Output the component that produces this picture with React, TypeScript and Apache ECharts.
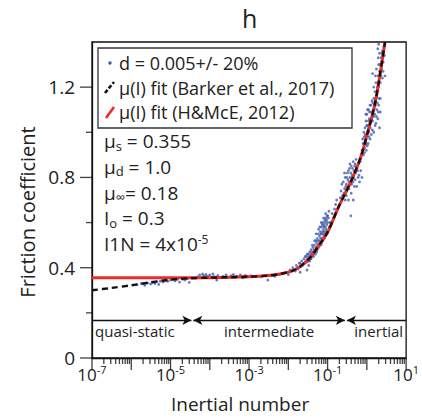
import React, { useEffect, useRef } from "react";
import * as echarts from "echarts";

// ---- data ----
const scatterPoints: [number, number][] = [
  [1.4e-6, 0.325], [1.8e-6, 0.33], [2.2e-6, 0.322], [2.6e-6, 0.332], [3.1e-6, 0.328],
  [3.5e-6, 0.335], [4e-6, 0.33], [4.5e-6, 0.338], [5e-6, 0.326], [5.5e-6, 0.34],
  [6.5e-6, 0.336], [7.5e-6, 0.343], [8.5e-6, 0.34], [1e-5, 0.345], [1.1e-5, 0.35],
  [1.3e-5, 0.342], [1.5e-5, 0.348], [1.7e-5, 0.336], [2e-5, 0.35], [2.3e-5, 0.345],
  [2.7e-5, 0.352], [3e-5, 0.335],
  [5e-5, 0.36], [5.5e-5, 0.368], [6e-5, 0.355], [6.5e-5, 0.372], [7e-5, 0.365],
  [7.5e-5, 0.36], [8e-5, 0.37], [9e-5, 0.362], [1e-4, 0.368], [1.1e-4, 0.358],
  [1.2e-4, 0.372], [1.3e-4, 0.36], [1.5e-4, 0.345], [1.6e-4, 0.366],
  [2.2e-4, 0.362], [2.6e-4, 0.368], [3e-4, 0.358], [3.5e-4, 0.365], [4e-4, 0.37],
  [4.5e-4, 0.36], [5e-4, 0.362], [6e-4, 0.368], [7e-4, 0.355], [8e-4, 0.366],
  [9e-4, 0.362], [1.1e-3, 0.365],
  [2e-3, 0.36], [3e-3, 0.345], [4.5e-3, 0.362], [6e-3, 0.37], [8e-3, 0.378],
  [0.01, 0.37], [0.011, 0.39], [0.013, 0.4], [0.015, 0.385],
  [0.016, 0.41], [0.018, 0.395], [0.02, 0.42], [0.021, 0.405], [0.022, 0.43],
  [0.024, 0.415], [0.025, 0.44], [0.026, 0.42], [0.028, 0.43], [0.029, 0.45],
  [0.03, 0.425], [0.031, 0.44], [0.032, 0.46], [0.033, 0.43], [0.034, 0.45],
  [0.035, 0.47], [0.036, 0.44], [0.037, 0.46], [0.038, 0.48], [0.04, 0.45],
  [0.04, 0.47], [0.042, 0.49], [0.043, 0.46], [0.045, 0.48], [0.02, 0.38], [0.03, 0.39],
  [0.017, 0.4], [0.019, 0.42], [0.023, 0.41], [0.027, 0.45], [0.03, 0.46],
  [0.033, 0.41], [0.035, 0.43], [0.038, 0.44], [0.041, 0.5], [0.044, 0.45],
  [0.047, 0.52], [0.049, 0.46],
  [0.046, 0.5], [0.048, 0.47], [0.05, 0.52], [0.05, 0.49], [0.052, 0.51],
  [0.054, 0.53], [0.055, 0.48], [0.056, 0.5], [0.058, 0.55], [0.06, 0.52],
  [0.06, 0.49], [0.062, 0.54], [0.064, 0.51], [0.065, 0.56], [0.066, 0.53],
  [0.068, 0.5], [0.07, 0.55], [0.07, 0.58], [0.072, 0.53], [0.074, 0.56],
  [0.075, 0.6], [0.076, 0.52], [0.078, 0.57], [0.08, 0.54], [0.08, 0.59],
  [0.082, 0.56], [0.085, 0.61], [0.086, 0.55], [0.088, 0.58], [0.09, 0.62],
  [0.09, 0.56], [0.095, 0.59], [0.1, 0.6], [0.1, 0.63], [0.11, 0.58], [0.39, 0.63],
  [0.051, 0.55], [0.053, 0.47], [0.057, 0.52], [0.059, 0.57], [0.061, 0.5],
  [0.063, 0.58], [0.067, 0.55], [0.069, 0.6], [0.071, 0.51], [0.073, 0.59],
  [0.077, 0.55], [0.079, 0.62], [0.081, 0.58], [0.083, 0.53], [0.087, 0.6],
  [0.089, 0.64], [0.092, 0.57], [0.094, 0.61], [0.097, 0.63], [0.105, 0.62],
  [0.108, 0.65], [0.115, 0.6],
  [0.12, 0.6], [0.13, 0.64], [0.14, 0.62], [0.15, 0.66], [0.16, 0.68], [0.17, 0.7],
  [0.22, 0.74], [0.24, 0.72], [0.25, 0.78], [0.27, 0.75], [0.28, 0.8], [0.3, 0.77],
  [0.3, 0.72], [0.32, 0.82], [0.33, 0.79], [0.35, 0.75], [0.36, 0.84], [0.37, 0.8],
  [0.38, 0.77], [0.4, 0.85], [0.4, 0.73], [0.42, 0.81], [0.44, 0.78], [0.45, 0.87],
  [0.47, 0.83], [0.5, 0.79], [0.5, 0.86], [0.52, 0.82], [0.55, 0.76], [0.56, 0.84],
  [0.6, 0.8], [0.62, 0.86], [0.65, 0.78], [0.7, 0.83], [0.75, 0.8], [0.28, 0.7],
  [0.34, 0.7], [0.45, 0.7],
  [0.21, 0.71], [0.23, 0.77], [0.26, 0.73], [0.27, 0.82], [0.29, 0.76], [0.31, 0.8],
  [0.31, 0.74], [0.34, 0.83], [0.35, 0.78], [0.37, 0.86], [0.39, 0.82], [0.41, 0.77],
  [0.43, 0.84], [0.46, 0.8], [0.48, 0.76], [0.49, 0.85], [0.53, 0.88], [0.58, 0.83],
  [0.63, 0.81], [0.68, 0.87],
  [0.75, 0.92], [0.8, 0.95], [0.82, 0.9], [0.85, 0.98], [0.88, 0.93], [0.9, 1.02],
  [0.92, 0.96], [0.95, 1.05], [0.97, 0.92], [1.0, 0.99], [1.0, 1.08], [1.05, 1.03],
  [1.08, 0.95], [1.1, 1.1], [1.12, 1.0], [1.15, 1.06], [1.2, 0.97], [1.2, 1.12],
  [1.25, 1.04], [1.3, 1.09], [1.3, 0.99], [1.35, 1.14], [1.4, 1.05], [1.45, 1.1],
  [1.5, 1.0], [1.5, 1.15], [1.6, 1.08], [1.65, 1.12], [1.7, 1.04], [1.8, 1.1],
  [1.9, 1.06], [2.0, 1.12], [2.1, 1.02], [2.2, 1.09],
  [0.78, 0.97], [0.84, 1.0], [0.87, 0.91], [0.91, 0.99], [0.94, 1.08], [0.96, 0.95],
  [0.99, 1.03], [1.02, 0.94], [1.04, 1.1], [1.07, 1.0], [1.1, 1.05], [1.13, 0.98],
  [1.17, 1.09], [1.22, 1.02], [1.27, 1.12], [1.32, 1.06], [1.38, 1.01], [1.42, 1.13],
  [1.48, 1.07], [1.55, 1.11], [1.62, 1.03], [1.68, 1.15], [1.75, 1.07], [1.85, 1.13],
  [1.95, 1.09], [2.05, 1.15],
  [1.6, 1.18], [1.7, 1.22], [1.8, 1.16], [1.9, 1.25], [2.0, 1.2], [2.0, 1.3],
  [2.1, 1.27], [2.2, 1.22], [2.3, 1.33], [2.4, 1.28], [2.5, 1.24], [2.5, 1.36],
  [2.6, 1.31], [2.7, 1.38], [2.8, 1.34], [2.2, 1.15], [1.75, 1.28], [1.9, 1.37],
  [1.4, 1.26], [2.9, 1.25], [1.5, 1.2], [1.65, 1.25], [1.85, 1.2], [1.95, 1.33],
  [2.15, 1.3], [2.3, 1.25], [2.4, 1.35], [2.6, 1.27], [2.1, 1.35], [2.0, 1.39],
];

const fitHMcE: [number, number][] = [
  [1e-7, 0.355], [1e-5, 0.355], [1e-4, 0.356], [1e-3, 0.36], [3e-3, 0.365],
  [6e-3, 0.372], [0.012, 0.385], [0.02, 0.405], [0.038, 0.45], [0.06, 0.5],
  [0.1, 0.557], [0.18, 0.66], [0.3, 0.74], [0.39, 0.78], [0.7, 0.89],
  [1.05, 1.0], [1.58, 1.12], [2.0, 1.22], [2.9, 1.4],
];

const fitBarker: [number, number][] = [
  [1e-7, 0.3], [3e-7, 0.31], [1e-6, 0.322], [3e-6, 0.335], [1e-5, 0.347],
  [3e-5, 0.353], [1e-4, 0.356], [1e-3, 0.36], [3e-3, 0.365], [6e-3, 0.372],
  [0.012, 0.385], [0.02, 0.405], [0.038, 0.45], [0.06, 0.5], [0.1, 0.557],
  [0.18, 0.66], [0.3, 0.74], [0.39, 0.78], [0.7, 0.89], [1.05, 1.0],
  [1.58, 1.12], [2.0, 1.22], [2.9, 1.4],
];

const yMajorTicks = [0, 0.4, 0.8, 1.2];
const yMinorTicks = [0.2, 0.6, 1.0];
const xDecadeExponents = [-7, -6, -5, -4, -3, -2, -1, 0, 1];

// regime band: [start, end, label]
const bandY = 0.167;
const regimes: [number, number, string][] = [
  [1e-7, 3.4e-5, "quasi-static"],
  [3.8e-5, 0.275, "intermediate"],
  [0.31, 10, "inertial"],
];

const legendNames = [
  "d = 0.005+/- 20%",
  "μ(I) fit (Barker et al., 2017)",
  "μ(I) fit (H&McE, 2012)",
];

const WORD_FONT = "Open Sans";
const NUM_FONT = "Open Sans";
const BLUE = "#3d5caa";
const RED = "#ee2b2b";

export default function App() {
  const ref = useRef<HTMLDivElement>(null);
  useEffect(() => {
    if (!ref.current) return;
    const chart = echarts.init(ref.current, null, { renderer: "svg" });

    const LW = 1.3;
    const tickData: any[] = [];
    xDecadeExponents.forEach((e) => {
      tickData.push({ value: [Math.pow(10, e), 0], symbolSize: [LW, 12], symbolOffset: [0, 6] });
      if (e < 1)
        for (let k = 2; k <= 9; k++)
          tickData.push({ value: [k * Math.pow(10, e), 0], symbolSize: [LW, 6], symbolOffset: [0, 3] });
    });
    yMajorTicks.forEach((v) =>
      tickData.push({ value: [1e-7, v], symbolSize: [12, LW], symbolOffset: [-6, 0] })
    );
    yMinorTicks.forEach((v) =>
      tickData.push({ value: [1e-7, v], symbolSize: [6, LW], symbolOffset: [-3, 0] })
    );

    const positions = ["insideStartBottom", "insideMiddleBottom", "insideEndBottom"];
    const markData = regimes.map(([a, b, label], i) => [
      {
        coord: [a, bandY],
        symbol: i === 0 ? "none" : "arrow",
        label: {
          show: true,
          formatter: label,
          position: positions[i],
          distance: [i === 1 ? 0 : 3, 3],
        },
      },
      { coord: [b, bandY], symbol: i === 2 ? "none" : "arrow" },
    ]);

    const option: any = {
      animation: false,
      backgroundColor: "#fff",
      title: {
        text: "h",
        left: 237,
        top: 0,
        textStyle: { fontSize: 25, fontWeight: "normal", color: "#222", fontFamily: WORD_FONT },
      },
      grid: {
        left: 92, top: 42, right: 13, bottom: 58,
        show: true, borderColor: "#111", borderWidth: LW,
      },
      xAxis: {
        type: "log",
        logBase: 10,
        min: 1e-7,
        max: 10,
        name: "Inertial number",
        nameLocation: "middle",
        nameGap: 36,
        nameTextStyle: { fontSize: 19, color: "#222", fontFamily: WORD_FONT, padding: [0, 18, 0, 0] },
        axisLine: { lineStyle: { color: "#111", width: LW } },
        axisTick: { show: false },
        splitLine: { show: false },
        axisLabel: {
          margin: 6,
          formatter: (v: number) => {
            const e = Math.round(Math.log10(v));
            if (e % 2 === 0) return "";
            return `{b|10}{s|${e}}`;
          },
          rich: {
            b: { fontSize: 17, fontFamily: NUM_FONT, color: "#222", lineHeight: 20 },
            s: { fontSize: 11, fontFamily: NUM_FONT, color: "#222", verticalAlign: "top" },
          },
        },
      },
      yAxis: {
        type: "value",
        min: 0,
        max: 1.4,
        interval: 0.4,
        name: "Friction coefficient",
        nameLocation: "middle",
        nameGap: 45,
        nameTextStyle: { fontSize: 20, color: "#222", fontFamily: WORD_FONT, padding: [0, 24, 0, 0] },
        axisLine: { lineStyle: { color: "#111", width: LW } },
        axisTick: { show: false },
        splitLine: { show: false },
        axisLabel: {
          margin: 17,
          showMaxLabel: false,
          fontSize: 19,
          color: "#222",
          fontFamily: NUM_FONT,
        },
      },
      series: [
        {
          type: "scatter",
          name: legendNames[0],
          data: scatterPoints,
          symbolSize: 2.8,
          itemStyle: { color: BLUE },
          silent: true,
          z: 2,
          markLine: {
            silent: true,
            animation: false,
            symbolSize: [7, 9],
            lineStyle: { color: "#111", width: LW, type: "solid" },
            label: { color: "#222", fontSize: 15, fontFamily: WORD_FONT },
            data: markData,
          },
        },
        {
          type: "line",
          name: legendNames[2],
          data: fitHMcE,
          showSymbol: false,
          smooth: 0.3,
          lineStyle: { color: RED, width: 3 },
          itemStyle: { color: RED },
          silent: true,
          z: 3,
        },
        {
          type: "line",
          name: legendNames[1],
          data: fitBarker,
          showSymbol: false,
          smooth: 0.3,
          lineStyle: { color: "#111", width: 2.4, type: [6, 4] },
          itemStyle: { color: "#111" },
          silent: true,
          z: 4,
        },
        {
          type: "scatter",
          name: "axis ticks",
          silent: true,
          clip: false,
          symbol: "rect",
          itemStyle: { color: "#111" },
          z: 6,
          data: tickData,
        },
      ],
      graphic: [
        {
          type: "rect",
          shape: { x: 98, y: 48, width: 254, height: 80 },
          style: { fill: "#fff", stroke: "#333", lineWidth: LW },
          z: 10,
        },
        { type: "circle", shape: { cx: 110, cy: 63, r: 1.7 }, style: { fill: BLUE }, z: 11 },
        {
          type: "line",
          shape: { x1: 105, y1: 93, x2: 114, y2: 82 },
          style: { stroke: "#111", lineWidth: 2.6, lineDash: [4, 2] },
          z: 11,
        },
        {
          type: "line",
          shape: { x1: 106, y1: 118, x2: 114, y2: 107 },
          style: { stroke: RED, lineWidth: 2.6 },
          z: 11,
        },
        ...legendNames.map((t, i) => ({
          type: "text",
          x: 119,
          y: 63 + i * 24.5,
          z: 11,
          style: { text: t, fontSize: 18, fontFamily: WORD_FONT, fill: "#222", verticalAlign: "middle" },
        })),
        ...[
          "{m|μ}{s|s}{m| = 0.355}",
          "{m|μ}{s|d}{m| = 1.0}",
          "{m|μ}{s|∞}{m|= 0.18}",
          "{m|I}{s|o}{m| = 0.3}",
          "{m|I1N = 4x10}{p|-5}",
        ].map((t, i) => ({
          type: "text",
          x: 104,
          y: 141 + i * 25.8,
          z: 11,
          style: {
            text: t,
            fill: "#222",
            verticalAlign: "middle",
            rich: {
              m: { fontSize: 19, fontFamily: WORD_FONT, fill: "#222", lineHeight: 22 },
              s: { fontSize: 13, fontFamily: WORD_FONT, fill: "#222", verticalAlign: "bottom" },
              p: { fontSize: 12, fontFamily: WORD_FONT, fill: "#222", verticalAlign: "top" },
            },
          },
        })),
      ],
    };
    chart.setOption(option);
    return () => chart.dispose();
  }, []);
  return (
    <div
      ref={ref}
      style={{ position: "fixed", left: 0, top: 0, width: 422, height: 418, background: "#fff" }}
    />
  );
}
